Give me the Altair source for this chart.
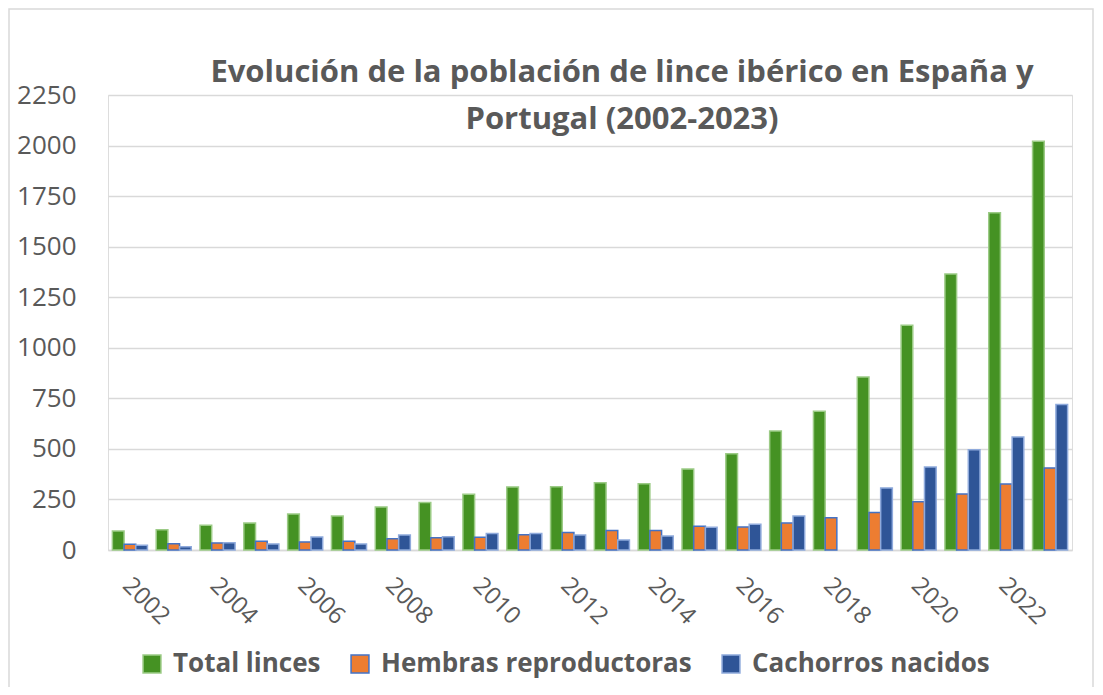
import altair as alt
import pandas as pd

years = list(range(2002, 2024))
total = [94, 100, 122, 133, 178, 168, 213, 235, 276, 312, 313, 332, 327, 400, 476,
         589, 686, 855, 1111, 1365, 1668, 2021]
hembras = [28, 31, 35, 43, 40, 43, 56, 61, 63, 76, 87, 97, 97, 117, 114,
           133, 160, 186, 239, 277, 326, 406]
cachorros = [23, 16, 36, 30, 64, 30, 74, 66, 81, 81, 74, 49, 69, 112, 127,
             168, None, 307, 410, 496, 559, 720]
series = ["Total linces", "Hembras reproductoras", "Cachorros nacidos"]
colors = ["#459223", "#ED7D31", "#2F5597"]
strokes = ["#9CCB86", "#4472C4", "#8FAADC"]
label_years = list(range(2002, 2024, 2))
title_lines = ["Evolución de la población de lince ibérico en España y",
               "Portugal (2002-2023)"]

rows = []
for name, vals in zip(series, [total, hembras, cachorros]):
    for y, v in zip(years, vals):
        if v is not None:
            rows.append({"Año": y, "Serie": name, "Valor": v})
df = pd.DataFrame(rows)

GRAY = "#595959"
FONT = "Open Sans"

legend_kw = dict(orient="none", legendX=31, legendY=556, direction="horizontal",
                 title=None, labelFont=FONT, labelFontWeight="bold", labelFontSize=26,
                 labelColor=GRAY, labelLimit=0, symbolType="square", symbolSize=320,
                 labelOffset=8, columnPadding=26, symbolStrokeWidth=1.5)

bars = alt.Chart(df).mark_bar(strokeWidth=1.5).encode(
    x=alt.X("Año:O",
            scale=alt.Scale(paddingInner=0.2, paddingOuter=0.1),
            axis=alt.Axis(values=label_years, labelAngle=45, labelAlign="left",
                          labelBaseline="top", labelFontSize=24, labelFont=FONT,
                          labelColor=GRAY, labelPadding=23, labelOffset=5, ticks=False,
                          domainColor="#D9D9D9", domainWidth=1.5, title=None)),
    y=alt.Y("Valor:Q",
            scale=alt.Scale(domain=[0, 2250]),
            axis=alt.Axis(values=list(range(0, 2251, 250)), format="d", labelFontSize=26,
                          labelFont=FONT, labelColor=GRAY, labelPadding=32,
                          ticks=False, domain=False, gridColor="#D9D9D9",
                          gridWidth=1.5, title=None)),
    xOffset=alt.XOffset("Serie:N", sort=series,
                        scale=alt.Scale(domain=series, paddingInner=0)),
    color=alt.Color("Serie:N", sort=series,
                    scale=alt.Scale(domain=series, range=colors),
                    legend=alt.Legend(**legend_kw)),
    stroke=alt.Stroke("Serie:N", sort=series,
                      scale=alt.Scale(domain=series, range=strokes),
                      legend=alt.Legend(**legend_kw)),
)

frame = alt.Chart(pd.DataFrame({"a": [0]})).mark_rect(
    filled=False, stroke="#D9D9D9", strokeWidth=1.5
).encode(x=alt.value(-99), x2=alt.value(985), y=alt.value(-86), y2=alt.value(720))

chart = alt.layer(frame, bars).properties(
    width=964, height=455,
    padding={"left": 100, "top": 87, "right": 23, "bottom": 137},
    autosize=alt.AutoSizeParams(type="none"),
    title=alt.TitleParams(text=title_lines, font=FONT, fontSize=31, fontWeight="bold",
                          color=GRAY, anchor="middle", frame="group", dx=32,
                          offset=-128, lineHeight=47),
).configure_view(stroke=None).configure(background="white")

chart.save("out.html", embed_options={"renderer": "svg", "actions": False})
